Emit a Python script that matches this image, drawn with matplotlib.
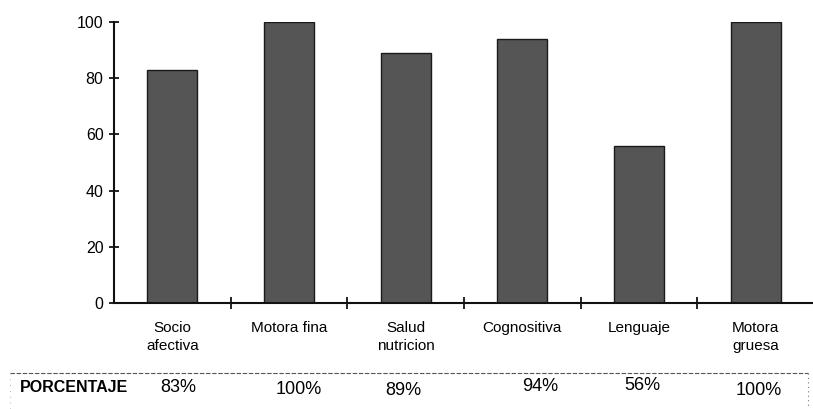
import matplotlib
matplotlib.use("Agg")
import matplotlib.pyplot as plt
from matplotlib.lines import Line2D
from matplotlib.transforms import blended_transform_factory

plt.rcParams['font.family'] = ['Liberation Sans', 'DejaVu Sans']

categories = ["Socio\nafectiva", "Motora fina", "Salud\nnutricion",
              "Cognositiva", "Lenguaje", "Motora\ngruesa"]
values = [83, 100, 89, 94, 56, 100]
value_labels = ["83%", "100%", "89%", "94%", "56%", "100%"]
y_ticks = [0, 20, 40, 60, 80, 100]
row_title = "PORCENTAJE"

W, H = 813, 409
fig = plt.figure(figsize=(W / 100, H / 100), dpi=100)

left_px, right_px = 114, 814
top_px, base_px = 22, 303
ax = fig.add_axes([left_px / W, (H - base_px) / H,
                   (right_px - left_px) / W, (base_px - top_px) / H])

x = list(range(len(categories)))
ax.bar(x, values, width=0.43, color="#555555", edgecolor="#1a1a1a",
       linewidth=1.0, zorder=2)

ax.set_xlim(-0.5, len(categories) - 0.5)
ax.set_ylim(0, 100)

ax.set_yticks(y_ticks)
ax.set_yticklabels([str(t) for t in y_ticks], fontsize=11.5)
ax.tick_params(axis="y", direction="inout", length=7, width=1.2, pad=4)

# category boundary ticks on the x axis, labels centred under each bar
ax.set_xticks([i + 0.5 for i in x[:-1]])
ax.set_xticklabels([])
ax.tick_params(axis="x", direction="inout", length=8, width=1.2)
for i, lab in enumerate(categories):
    ax.text(i, -0.065, lab, transform=blended_transform_factory(ax.transData, ax.transAxes),
            ha="center", va="top", fontsize=11, linespacing=1.3)

for s in ("top", "right"):
    ax.spines[s].set_visible(False)
for s in ("left", "bottom"):
    ax.spines[s].set_linewidth(1.5)
    ax.spines[s].set_color("#111111")

# percentage row below the chart
row_y = 1 - 388 / H
trans = blended_transform_factory(ax.transData, fig.transFigure)
offsets = [0.05, 0.08, -0.02, 0.15, 0.03, 0.03]
dy = [0.0, -0.004, -0.006, 0.004, 0.007, -0.005]
for i, (lab, off) in enumerate(zip(value_labels, offsets)):
    ax.text(i + off, row_y + dy[i], lab, transform=trans, ha="center",
            va="center", fontsize=13, clip_on=False)
fig.text(20 / W, row_y, row_title, ha="left", va="center",
         fontsize=11.5, fontweight="bold")

line_y = 1 - 373 / H
fig.add_artist(Line2D([10 / W, 808 / W], [line_y, line_y],
                      color="#555555", lw=0.8, linestyle=(0, (4, 1.5))))
fig.add_artist(Line2D([808 / W, 808 / W], [line_y, 0],
                      color="#777777", lw=0.8, linestyle=(0, (1, 3))))
fig.add_artist(Line2D([10 / W, 10 / W], [line_y, 0],
                      color="#999999", lw=0.6, linestyle=(0, (1, 6))))

fig.savefig("out.png", dpi=100, facecolor="white")
